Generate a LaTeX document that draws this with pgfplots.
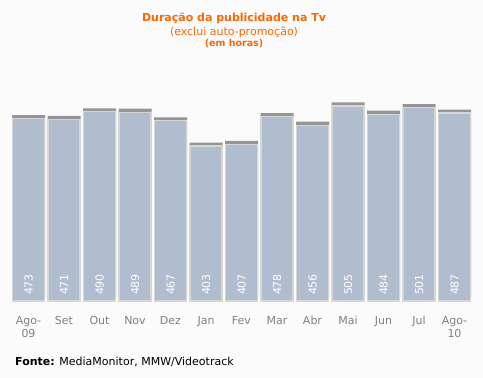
\documentclass[border=0pt]{standalone}
\usepackage{pgfplots}
\pgfplotsset{compat=1.18}
\usepackage{pgfplotstable}
\usepackage{fontspec}
\setmainfont{DejaVu Sans}
\definecolor{bg}{HTML}{FBFBFB}
\definecolor{barc}{HTML}{B0BDCE}
\definecolor{barline}{HTML}{D6D6D6}
\definecolor{bartop}{HTML}{959595}
\definecolor{org}{HTML}{FF6600}
\definecolor{tickc}{HTML}{808080}

\pgfplotstableread{
x y base
0 473 8.6
1 471 8.6
2 490 8.6
3 489 8.6
4 467 8.6
5 403 8.6
6 407 8.6
7 478 8.6
8 456 8.6
9 505 8.6
10 484 8.6
11 501 8.6
12 487 8.6
}\data

\begin{document}
\begin{tikzpicture}
\fill[bg] (0,0) rectangle (483pt,378pt);
\begin{axis}[
  at={(10.75pt,77pt)}, anchor=south west,
  scale only axis, width=461.5pt, height=232.4pt,
  xmin=-0.5, xmax=12.5, ymin=8.6, ymax=600,
  axis line style={draw=none},
  ytick=\empty,
  xtick={0,...,12},
  xticklabels={Ago-\\09,Set,Out,Nov,Dez,Jan,Fev,Mar,Abr,Mai,Jun,Jul,Ago-\\10},
  major tick length=0pt,
  xticklabel style={anchor=north, yshift=-15pt, inner sep=0pt, align=center,
    font=\fontsize{11}{13}\selectfont, text=tickc},
  clip=false,
  /pgf/number format/assume math mode=true,
]
\addplot[ybar, bar width=33pt, fill=bartop, draw=none, yshift=3.5pt]
  table[x=x, y=y] {\data};
\addplot[ybar, bar width=32pt, fill=barc, draw=barline, line width=1.2pt]
  table[x=x, y=y] {\data};
\addplot[draw=none, mark=none, nodes near coords, point meta=explicit,
  every node near coord/.style={anchor=west, yshift=6pt, rotate=90, inner sep=0pt, outer sep=0pt,
    text=white, font=\fontsize{11}{13}\selectfont}]
  table[x=x, y=base, meta=y] {\data};
\end{axis}
\node[text=org, font=\bfseries\fontsize{11}{13}\selectfont] at (234pt,360pt) {Duração da publicidade na Tv};
\node[text=org, font=\fontsize{11}{13}\selectfont] at (234pt,346pt) {(exclui auto-promoção)};
\node[text=org, font=\bfseries\fontsize{9.5}{11}\selectfont] at (234pt,334pt) {(em horas)};
\node[anchor=west, inner sep=0pt, font=\fontsize{11}{13}\selectfont] at (15pt,16pt) {\textbf{Fonte:} MediaMonitor, MMW/Videotrack};
\end{tikzpicture}
\end{document}
